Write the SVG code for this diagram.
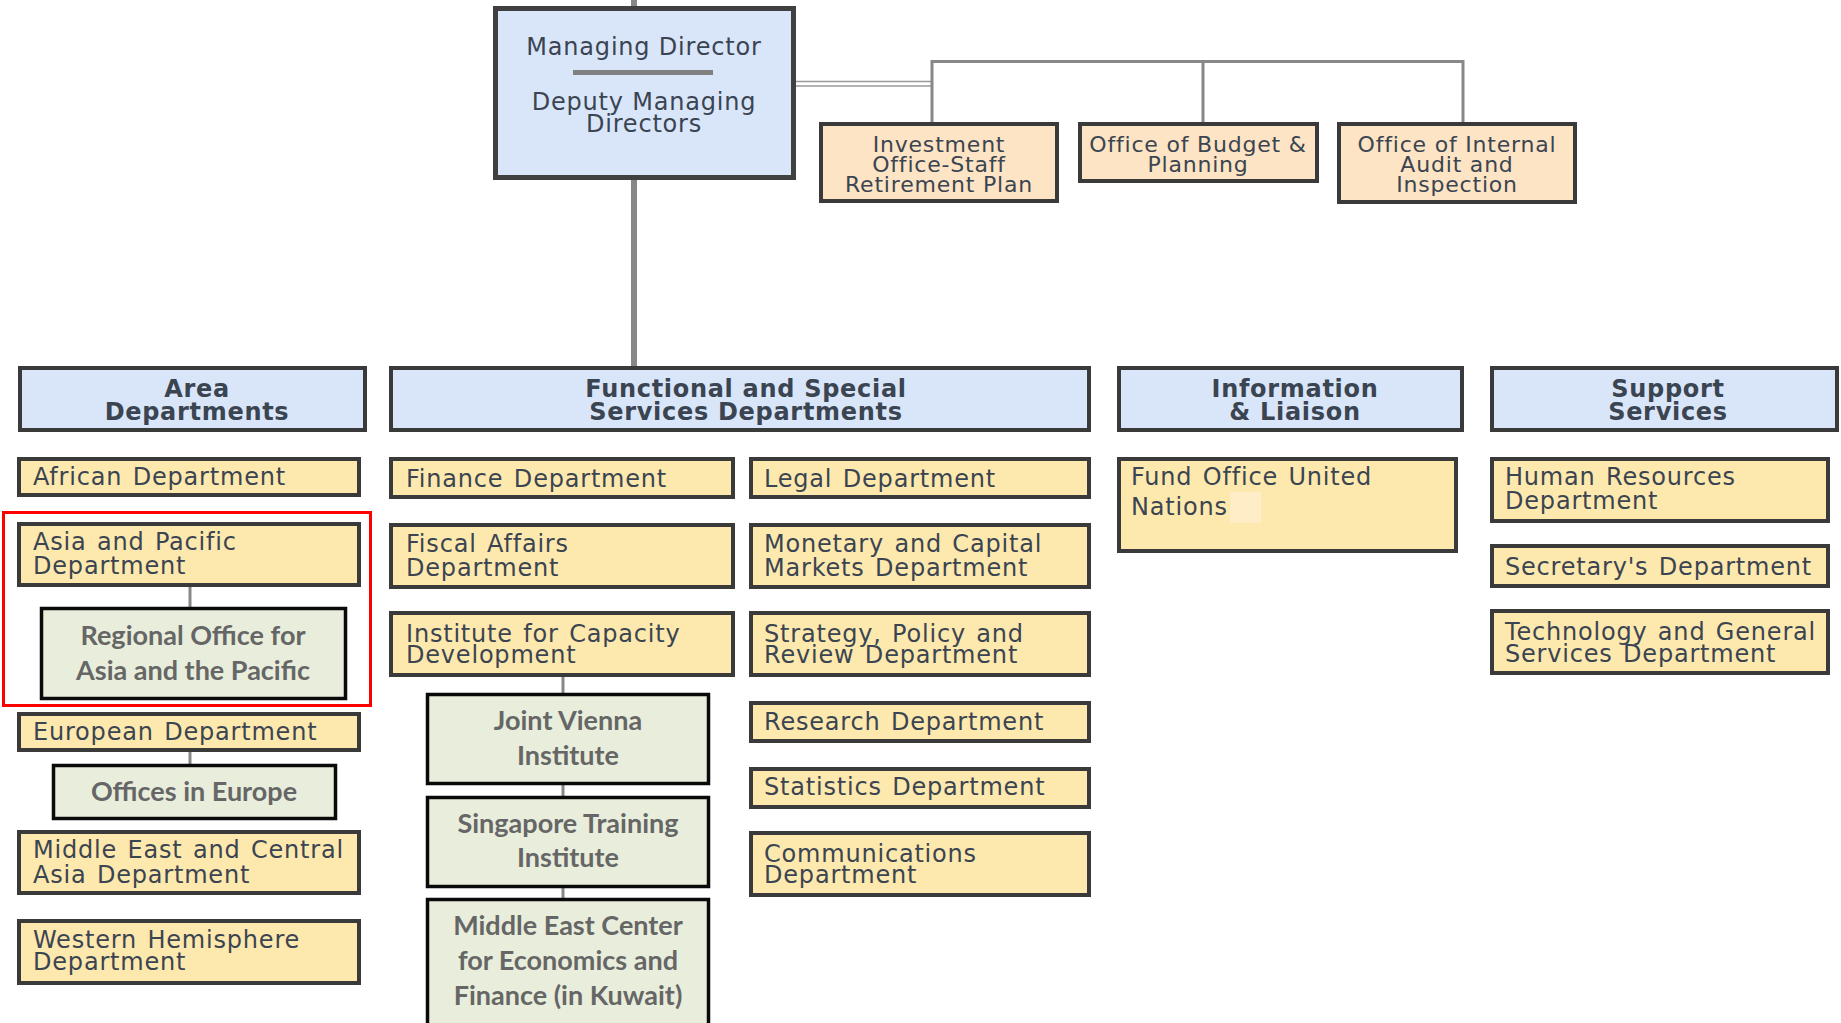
<svg xmlns="http://www.w3.org/2000/svg" width="1841" height="1023" viewBox="0 0 1841 1023">
<style>
.bx{stroke:#3a3a3a;stroke-width:4}
.md{fill:#d9e6f9;stroke:#404040;stroke-width:5}
.hd{fill:#d9e6f9}
.pe{fill:#fde4c4}
.ye{fill:#fde9ae}
.gr{fill:#e8eedb;stroke:#0a0a0a;stroke-width:3.5}
.t{font-family:"DejaVu Sans",Verdana,sans-serif;font-size:24px;letter-spacing:0.8px;word-spacing:2px;fill:#3b4451}
.ts{font-family:"DejaVu Sans",Verdana,sans-serif;font-size:22px;letter-spacing:0.8px;fill:#3b4451;text-anchor:middle}
.th{font-family:"DejaVu Sans",Verdana,sans-serif;font-size:24px;font-weight:bold;letter-spacing:0.7px;fill:#3b4451;text-anchor:middle}
.tg{font-family:Lato,"Open Sans",sans-serif;font-size:27px;font-weight:bold;fill:#666666;text-anchor:middle}
.c{stroke:#888888;stroke-width:3;fill:none}
.cw{stroke:#888888;stroke-width:6;fill:none}
</style>
<rect width="1841" height="1023" fill="#ffffff"/>
<g id="connectors">
<line class="cw" x1="634" y1="0" x2="634" y2="8"/>
<line class="cw" x1="634" y1="180" x2="634" y2="366"/>
<line x1="796" y1="81.5" x2="932" y2="81.5" stroke="#999" stroke-width="1.6"/>
<line x1="796" y1="86" x2="932" y2="86" stroke="#999" stroke-width="1.6"/>
<path class="c" d="M932 122 V61.5 H1463 V122 M1203 61.5 V122"/>
<line class="c" x1="190" y1="587" x2="190" y2="607"/>
<line class="c" x1="190" y1="752" x2="190" y2="764"/>
<line class="c" x1="563" y1="677" x2="563" y2="693"/>
<line class="c" x1="563" y1="785" x2="563" y2="796"/>
<line class="c" x1="563" y1="888" x2="563" y2="898"/>
</g>
<g id="md">
<rect class="md" x="495.5" y="8.5" width="298" height="169"/>
<text class="ts" x="644" y="55" style="font-size:24px">Managing Director</text>
<rect x="573" y="70" width="140" height="5" fill="#808080"/>
<text class="ts" x="644" y="110" style="font-size:24px">Deputy Managing</text>
<text class="ts" x="644" y="132" style="font-size:24px">Directors</text>
</g>
<g id="investment">
<rect class="bx pe" x="821" y="124" width="236" height="77"/>
<text class="ts" x="939" y="152">Investment</text>
<text class="ts" x="939" y="172">Office-Staff</text>
<text class="ts" x="939" y="192">Retirement Plan</text>
</g>
<g id="budget">
<rect class="bx pe" x="1080" y="124" width="237" height="57"/>
<text class="ts" x="1198" y="152">Office of Budget &amp;</text>
<text class="ts" x="1198" y="172">Planning</text>
</g>
<g id="audit">
<rect class="bx pe" x="1339" y="124" width="236" height="78"/>
<text class="ts" x="1457" y="152">Office of Internal</text>
<text class="ts" x="1457" y="172">Audit and</text>
<text class="ts" x="1457" y="192">Inspection</text>
</g>
<g id="hdr-area">
<rect class="bx hd" x="20" y="368" width="345" height="62"/>
<text class="th" x="197" y="397">Area</text>
<text class="th" x="197" y="420">Departments</text>
</g>
<g id="hdr-fsd">
<rect class="bx hd" x="391" y="368" width="698" height="62"/>
<text class="th" x="746" y="397">Functional and Special</text>
<text class="th" x="746" y="420">Services Departments</text>
</g>
<g id="hdr-info">
<rect class="bx hd" x="1119" y="368" width="343" height="62"/>
<text class="th" x="1295" y="397">Information</text>
<text class="th" x="1295" y="420">&amp; Liaison</text>
</g>
<g id="hdr-support">
<rect class="bx hd" x="1492" y="368" width="345" height="62"/>
<text class="th" x="1668" y="397">Support</text>
<text class="th" x="1668" y="420">Services</text>
</g>
<g id="african">
<rect class="bx ye" x="19" y="459" width="340" height="36"/>
<text class="t" x="33" y="485">African Department</text>
</g>
<g id="asia-pacific">
<rect class="bx ye" x="19" y="524" width="340" height="61"/>
<text class="t" x="33" y="550">Asia and Pacific</text>
<text class="t" x="33" y="574">Department</text>
</g>
<g id="regional-office">
<rect class="gr" x="41.5" y="608.5" width="304" height="90"/>
<text class="tg" x="193" y="645">Regional Office for</text>
<text class="tg" x="193" y="680">Asia and the Pacific</text>
</g>
<g id="highlight">
<rect x="3.5" y="512.5" width="367" height="193" fill="none" stroke="#ff0000" stroke-width="3"/>
</g>
<g id="european">
<rect class="bx ye" x="19" y="714" width="340" height="36"/>
<text class="t" x="33" y="740">European Department</text>
</g>
<g id="offices-europe">
<rect class="gr" x="53.5" y="765.5" width="282" height="53"/>
<text class="tg" x="194" y="801">Offices in Europe</text>
</g>
<g id="meca">
<rect class="bx ye" x="19" y="832" width="340" height="61"/>
<text class="t" x="33" y="858">Middle East and Central</text>
<text class="t" x="33" y="883">Asia Department</text>
</g>
<g id="western">
<rect class="bx ye" x="19" y="921" width="340" height="62"/>
<text class="t" x="33" y="948">Western Hemisphere</text>
<text class="t" x="33" y="970">Department</text>
</g>
<g id="finance">
<rect class="bx ye" x="391" y="459" width="342" height="38"/>
<text class="t" x="406" y="487">Finance Department</text>
</g>
<g id="legal">
<rect class="bx ye" x="751" y="459" width="338" height="38"/>
<text class="t" x="764" y="487">Legal Department</text>
</g>
<g id="fiscal">
<rect class="bx ye" x="391" y="525" width="342" height="62"/>
<text class="t" x="406" y="552">Fiscal Affairs</text>
<text class="t" x="406" y="576">Department</text>
</g>
<g id="monetary">
<rect class="bx ye" x="751" y="525" width="338" height="62"/>
<text class="t" x="764" y="552">Monetary and Capital</text>
<text class="t" x="764" y="576">Markets Department</text>
</g>
<g id="icd">
<rect class="bx ye" x="391" y="613" width="342" height="62"/>
<text class="t" x="406" y="642">Institute for Capacity</text>
<text class="t" x="406" y="663">Development</text>
</g>
<g id="strategy">
<rect class="bx ye" x="751" y="613" width="338" height="62"/>
<text class="t" x="764" y="642">Strategy, Policy and</text>
<text class="t" x="764" y="663">Review Department</text>
</g>
<g id="research">
<rect class="bx ye" x="751" y="703" width="338" height="38"/>
<text class="t" x="764" y="730">Research Department</text>
</g>
<g id="statistics">
<rect class="bx ye" x="751" y="769" width="338" height="38"/>
<text class="t" x="764" y="795">Statistics Department</text>
</g>
<g id="communications">
<rect class="bx ye" x="751" y="833" width="338" height="62"/>
<text class="t" x="764" y="862">Communications</text>
<text class="t" x="764" y="883">Department</text>
</g>
<g id="jvi">
<rect class="gr" x="427.5" y="694.5" width="281" height="89"/>
<text class="tg" x="568" y="730">Joint Vienna</text>
<text class="tg" x="568" y="765">Institute</text>
</g>
<g id="sti">
<rect class="gr" x="427.5" y="797.5" width="281" height="89"/>
<text class="tg" x="568" y="833">Singapore Training</text>
<text class="tg" x="568" y="867">Institute</text>
</g>
<g id="cef">
<rect class="gr" x="427.5" y="899.5" width="281" height="140"/>
<text class="tg" x="568" y="935">Middle East Center</text>
<text class="tg" x="568" y="970">for Economics and</text>
<text class="tg" x="568" y="1005">Finance (in Kuwait)</text>
</g>
<g id="fund-office">
<rect class="bx ye" x="1119" y="459" width="337" height="92"/>
<rect x="1230" y="492" width="31" height="31" fill="#feedc6"/>
<text class="t" x="1131" y="485">Fund Office United</text>
<text class="t" x="1131" y="515">Nations</text>
</g>
<g id="hr">
<rect class="bx ye" x="1492" y="459" width="336" height="62"/>
<text class="t" x="1505" y="485">Human Resources</text>
<text class="t" x="1505" y="509">Department</text>
</g>
<g id="secretary">
<rect class="bx ye" x="1492" y="546" width="336" height="40"/>
<text class="t" x="1505" y="575">Secretary's Department</text>
</g>
<g id="technology">
<rect class="bx ye" x="1492" y="611" width="336" height="62"/>
<text class="t" x="1505" y="640">Technology and General</text>
<text class="t" x="1505" y="662">Services Department</text>
</g>
</svg>
